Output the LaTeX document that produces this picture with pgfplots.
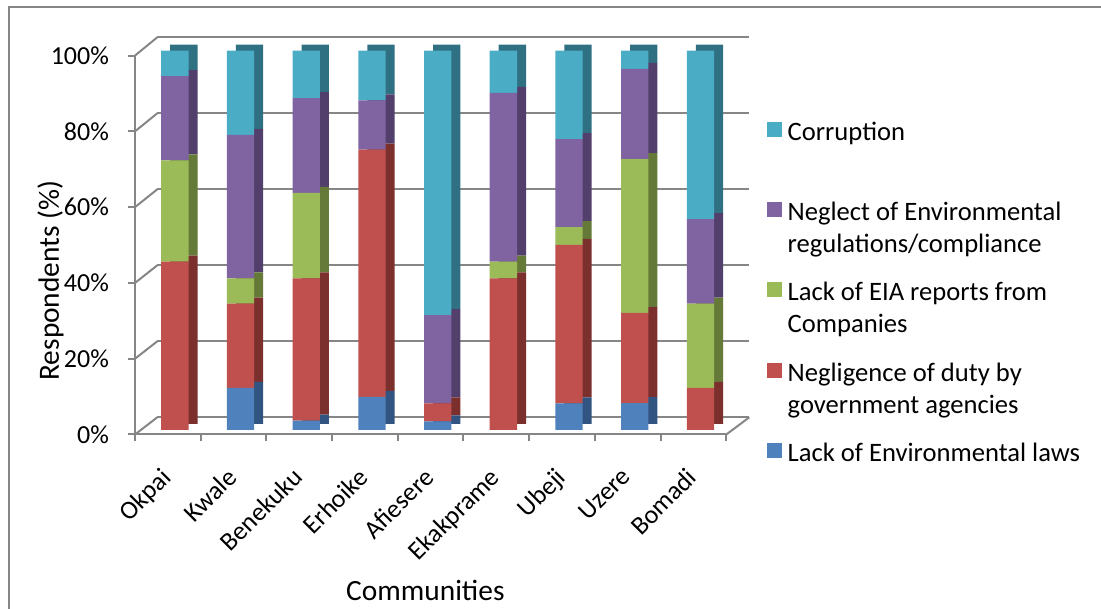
\documentclass[border=0pt]{standalone}
\usepackage{fontspec}
\setmainfont{Carlito}
\usepackage{pgfplots}
\usepackage{pgfplotstable}
\pgfplotsset{compat=1.18}

% series colours (front faces) and their shaded depth faces
\definecolor{axgray}{RGB}{134,134,134}
\definecolor{cLaws}{RGB}{79,129,189}
\definecolor{cNegl}{RGB}{192,80,77}
\definecolor{cEia}{RGB}{155,187,89}
\definecolor{cNeglect}{RGB}{128,100,162}
\definecolor{cCorr}{RGB}{75,172,198}
\definecolor{dLaws}{RGB}{50,84,128}
\definecolor{dNegl}{RGB}{124,48,46}
\definecolor{dEia}{RGB}{101,122,56}
\definecolor{dNeglect}{RGB}{83,63,108}
\definecolor{dCorr}{RGB}{47,112,130}

% share of respondents (%) naming each cause, per community
\pgfplotstableread{
idx laws negl eia neglect corr
0 0    44.4 26.7 22.2 6.7
1 11.1 22.2 6.7  37.8 22.2
2 2.5  37.5 22.5 25.0 12.5
3 8.7  65.2 0    13.0 13.1
4 2.3  4.7  0    23.3 69.7
5 0    40.0 4.4  44.5 11.1
6 7.0  41.8 4.7  23.2 23.3
7 7.1  23.8 40.5 23.8 4.8
8 0    11.1 22.2 22.3 44.4
}\responses

% every legend row gets the same box so the rows are evenly spaced
\newcommand\legtext[1]{\raisebox{0pt}[10pt][0pt]{\parbox[t]{160pt}{\raggedright #1}}}
\newcommand\tickfont{\fontsize{13}{15.6}\selectfont}

\pgfplotsset{
  barbox/.style={
    scale only axis, width=295.65pt, height=189.65pt,
    xmin=-0.5, xmax=8.5, ymin=0, ymax=100,
    axis line style={draw=none}, xtick=\empty, ytick=\empty,
    ybar stacked, clip=false,
  },
  seg/.style={fill=#1, draw=none, bar width=13.65pt, bar shift=3.5pt},
}

\begin{document}
\begin{tikzpicture}
\useasboundingbox (0pt,0pt) rectangle (550.5pt,304.5pt);
% chart frame
\draw[axgray, line width=1pt] (4.25pt,-20pt) -- (4.25pt,301pt) -- (600pt,301pt);

% back wall with gridlines
\begin{axis}[
  scale only axis, width=296pt, height=190pt,
  at={(78.65pt,95.85pt)}, anchor=south west,
  xmin=0, xmax=1, ymin=0, ymax=100,
  axis line style={draw=none}, xtick=\empty,
  ytick={0,20,...,100}, yticklabels={}, tick style={draw=none},
  ymajorgrids, grid style={axgray, line width=1.2pt},
]
\end{axis}

% depth faces of the columns
\begin{axis}[barbox, at={(72pt,92.5pt)}, anchor=south west]
\addplot[seg=dLaws]    table[x=idx, y=laws]    {\responses};
\addplot[seg=dNegl]    table[x=idx, y=negl]    {\responses};
\addplot[seg=dEia]     table[x=idx, y=eia]     {\responses};
\addplot[seg=dNeglect] table[x=idx, y=neglect] {\responses};
\addplot[seg=dCorr]    table[x=idx, y=corr]    {\responses};
\end{axis}

% front faces of the columns, with the legend
\begin{axis}[barbox, at={(67.5pt,89.5pt)}, anchor=south west,
  reverse legend, legend cell align=left,
  legend image code/.code={\fill[#1] (0pt,-2.5pt) rectangle (7.5pt,5pt);},
  legend style={at={(1.0683,0.8173)}, anchor=north west, draw=none, fill=none,
    inner sep=0pt, row sep=28.65pt, column sep=2.8pt, nodes={inner sep=0pt},
    font=\fontsize{13.3}{16}\selectfont},
]
\addplot[seg=cLaws]    table[x=idx, y=laws]    {\responses};
\addlegendentry{\legtext{Lack of Environmental laws}}
\addplot[seg=cNegl]    table[x=idx, y=negl]    {\responses};
\addlegendentry{\legtext{Negligence of duty by\\government agencies}}
\addplot[seg=cEia]     table[x=idx, y=eia]     {\responses};
\addlegendentry{\legtext{Lack of EIA reports from\\Companies}}
\addplot[seg=cNeglect] table[x=idx, y=neglect] {\responses};
\addlegendentry{\legtext{Neglect of Environmental\\regulations/compliance}}
\addplot[seg=cCorr]    table[x=idx, y=corr]    {\responses};
\addlegendentry{\legtext{Corruption}}
\end{axis}

% front axes with ticks and labels
\begin{axis}[
  scale only axis, width=295.65pt, height=189.45pt,
  at={(67.5pt,87.25pt)}, anchor=south west,
  xmin=-0.5, xmax=8.5, ymin=0, ymax=100,
  axis x line*=bottom, axis y line*=left,
  axis line style={draw=axgray, line width=1pt, -},
  tick align=outside, major tick length=3.5pt,
  tick style={axgray, line width=1pt},
  tick label style={font=\tickfont},
  ytick={0,20,...,100}, yticklabels={0\%,20\%,40\%,60\%,80\%,100\%},
  yticklabel style={font=\tickfont, xshift=-6pt},
  xtick={-0.5,0.5,...,8.5}, xticklabels={},
  extra x ticks={0,...,8},
  extra x tick labels={Okpai,Kwale,Benekuku,Erhoike,Afiesere,Ekakprame,Ubeji,Uzere,Bomadi},
  extra x tick style={tick style={draw=none},
    xticklabel style={font=\tickfont, xshift=-4pt, yshift=-7.5pt, rotate=45, anchor=north east}},
  ylabel={Respondents (\%)},
  ylabel style={at={(axis description cs:-0.1429,0.4064)}, anchor=center, rotate=0,
    font=\fontsize{14.7}{17}\selectfont},
  xlabel={Communities},
  xlabel style={at={(axis description cs:0.4911,-0.4104)}, anchor=center,
    font=\fontsize{14.7}{17}\selectfont},
]
\end{axis}

% side wall and floor edges joining the front axes to the back wall
\foreach \k in {0,...,5}
  \draw[axgray, line width=1pt] (67.5pt,{87.25pt+37.89pt*\k}) -- (78.65pt,{95.85pt+38pt*\k});
\draw[axgray, line width=1pt] (363.15pt,87.25pt) -- (374.65pt,95.85pt);
\end{tikzpicture}
\end{document}
